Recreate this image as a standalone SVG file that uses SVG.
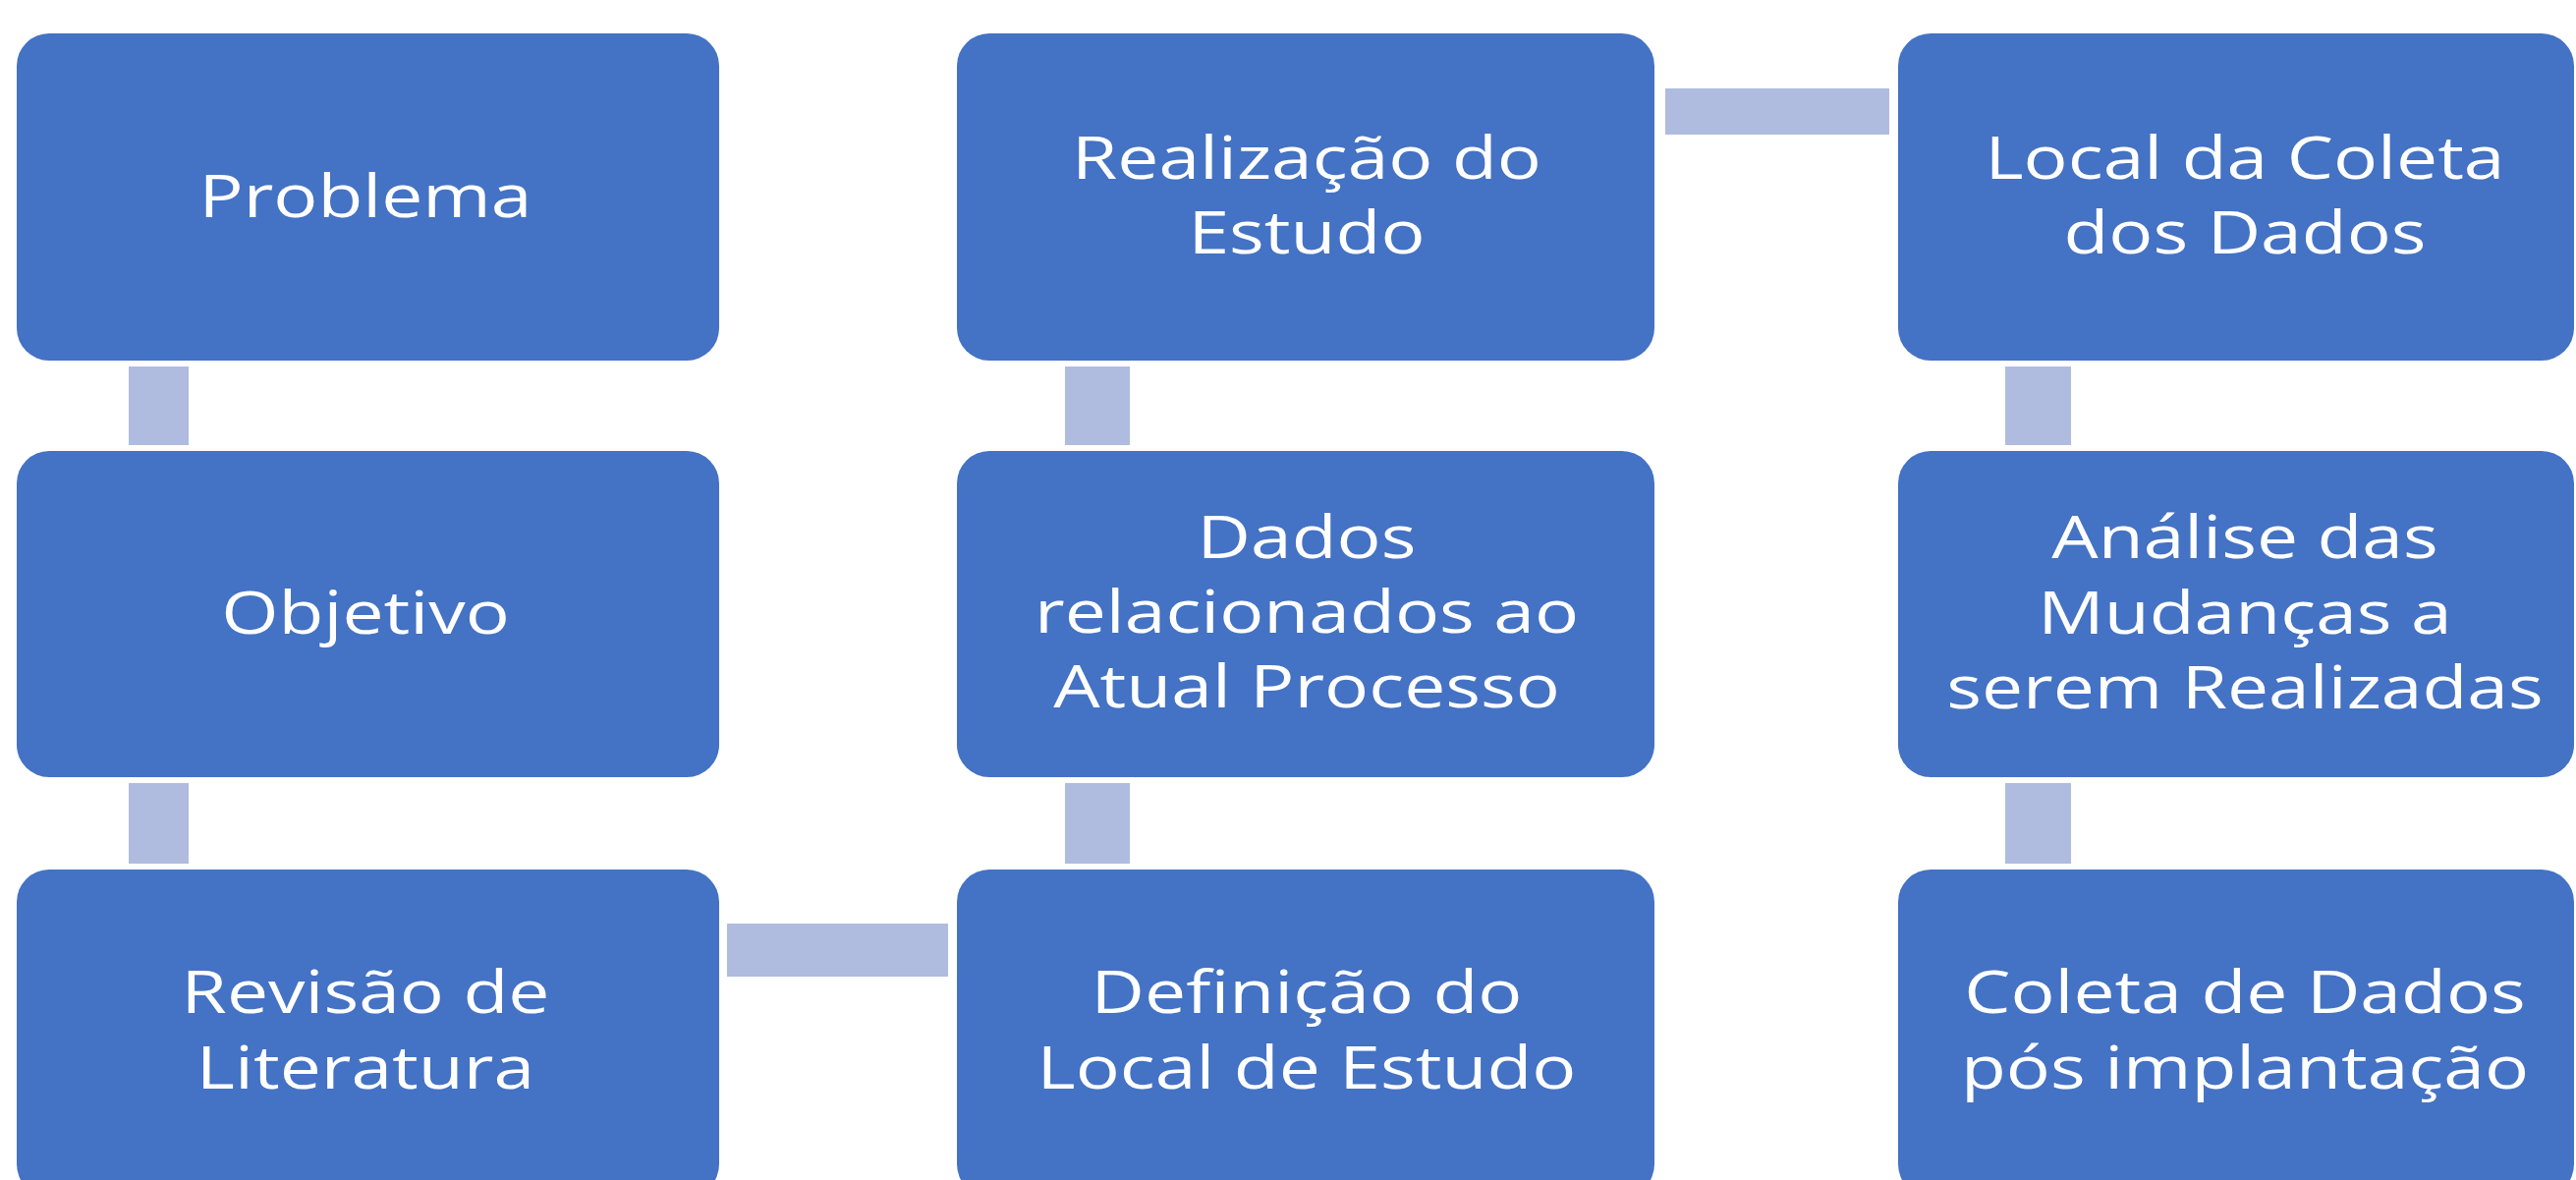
<svg xmlns="http://www.w3.org/2000/svg" width="2622" height="1201" viewBox="0 0 2622 1201">
<style>
.box{fill:#4472C4;}
.con{fill:#AFBCDF;}
.t{font-family:"Open Sans","Noto Sans","DejaVu Sans",sans-serif;font-size:60px;fill:#FFFFFF;text-anchor:middle;}
</style>
<rect x="0" y="0" width="2622" height="1201" fill="#FFFFFF"/>
<g id="connectors">
<rect class="con" x="131" y="373" width="61" height="80"/>
<rect class="con" x="131" y="797" width="61" height="82"/>
<rect class="con" x="740" y="940" width="225" height="54"/>
<rect class="con" x="1084" y="797" width="66" height="82"/>
<rect class="con" x="1084" y="373" width="66" height="80"/>
<rect class="con" x="1695" y="90" width="228" height="47"/>
<rect class="con" x="2041" y="373" width="67" height="80"/>
<rect class="con" x="2041" y="797" width="67" height="82"/>
</g>
<g id="problema">
<rect class="box" x="17" y="34" width="715" height="333" rx="33"/>
<text class="t" transform="translate(372 0) scale(1.25 1)" x="0" y="221">Problema</text>
</g>
<g id="objetivo">
<rect class="box" x="17" y="459" width="715" height="332" rx="33"/>
<text class="t" transform="translate(372 0) scale(1.25 1)" x="0" y="645">Objetivo</text>
</g>
<g id="revisao">
<rect class="box" x="17" y="885" width="715" height="333" rx="33"/>
<text class="t" transform="translate(372 0) scale(1.25 1)"><tspan x="0" y="1031">Revisão de</tspan><tspan x="0" y="1108">Literatura</tspan></text>
</g>
<g id="definicao">
<rect class="box" x="974" y="885" width="710" height="333" rx="33"/>
<text class="t" transform="translate(1330 0) scale(1.25 1)"><tspan x="0" y="1031">Definição do</tspan><tspan x="0" y="1108">Local de Estudo</tspan></text>
</g>
<g id="dados">
<rect class="box" x="974" y="459" width="710" height="332" rx="33"/>
<text class="t" transform="translate(1330 0) scale(1.25 1)"><tspan x="0" y="568">Dados</tspan><tspan x="0" y="644">relacionados ao</tspan><tspan x="0" y="720">Atual Processo</tspan></text>
</g>
<g id="realizacao">
<rect class="box" x="974" y="34" width="710" height="333" rx="33"/>
<text class="t" transform="translate(1330 0) scale(1.25 1)"><tspan x="0" y="182">Realização do</tspan><tspan x="0" y="258">Estudo</tspan></text>
</g>
<g id="local-coleta">
<rect class="box" x="1932" y="34" width="688" height="333" rx="33"/>
<text class="t" transform="translate(2285 0) scale(1.25 1)"><tspan x="0" y="182">Local da Coleta</tspan><tspan x="0" y="258">dos Dados</tspan></text>
</g>
<g id="analise">
<rect class="box" x="1932" y="459" width="688" height="332" rx="33"/>
<text class="t" transform="translate(2285 0) scale(1.25 1)"><tspan x="0" y="568">Análise das</tspan><tspan x="0" y="645">Mudanças a</tspan><tspan x="0" y="721">serem Realizadas</tspan></text>
</g>
<g id="coleta-pos">
<rect class="box" x="1932" y="885" width="688" height="333" rx="33"/>
<text class="t" transform="translate(2285 0) scale(1.25 1)"><tspan x="0" y="1031">Coleta de Dados</tspan><tspan x="0" y="1108">pós implantação</tspan></text>
</g>
</svg>
